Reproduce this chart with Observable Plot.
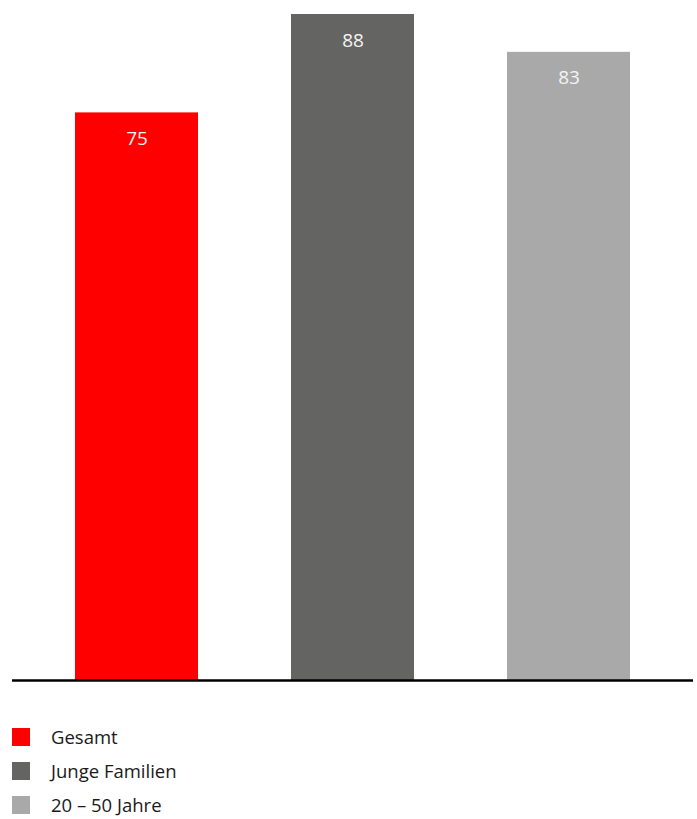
<!DOCTYPE html>
<html>
<head>
<meta charset="utf-8">
<script src="https://cdn.jsdelivr.net/npm/d3@7"></script>
<script src="https://cdn.jsdelivr.net/npm/@observablehq/plot@0.6"></script>
<style>
  html, body { margin: 0; padding: 0; background: #fff; overflow: hidden; }
  body { width: 697px; font-family: "Open Sans", "Noto Sans", sans-serif; }
  #legend { margin: 0; padding: 0; position: relative; height: 119px; }
  .row { position: absolute; left: 12px; height: 18px; }
  .sw { width: 18px; height: 18px; }
  .lab { position: absolute; left: 39px; top: 0px; white-space: nowrap; font-size: 18.5px; font-weight: 500; color: #1a1a1a; line-height: 18px; }
</style>
</head>
<body>
<div id="chart"></div>
<div id="legend"></div>
<script>
const categories = ["Gesamt", "Junge Familien", "20 – 50 Jahre"];
const values = [75, 88, 83];
const colors = ["#ff0000", "#646462", "#a8a9a8"];

const data = categories.map((c, i) => ({category: c, value: values[i]}));

const chart = Plot.plot({
  width: 697,
  height: 700,
  marginTop: 14,
  marginBottom: 20,
  marginLeft: 12,
  marginRight: 4,
  x: {domain: categories, paddingInner: 0.432, paddingOuter: 0.29, axis: null},
  y: {domain: [0, 88], axis: null},
  color: {domain: categories, range: colors},
  style: {fontFamily: "'Open Sans', 'Noto Sans', sans-serif"},
  marks: [
    Plot.barY(data, {x: "category", y: "value", fill: "category"}),
    Plot.ruleY([0], {stroke: "#000", strokeWidth: 2.5}),
    Plot.text(data, {x: "category", y: "value", text: d => String(d.value), dy: 26, fill: "#f4f4f4", fontSize: 19})
  ]
});
document.getElementById("chart").appendChild(chart);

const legend = document.getElementById("legend");
categories.forEach((c, i) => {
  const row = document.createElement("div");
  row.className = "row";
  row.style.top = (28 + i * 34) + "px";
  const sw = document.createElement("div");
  sw.className = "sw";
  sw.style.background = colors[i];
  const lab = document.createElement("div");
  lab.className = "lab";
  lab.textContent = c;
  row.appendChild(sw);
  row.appendChild(lab);
  legend.appendChild(row);
});
</script>
</body>
</html>
